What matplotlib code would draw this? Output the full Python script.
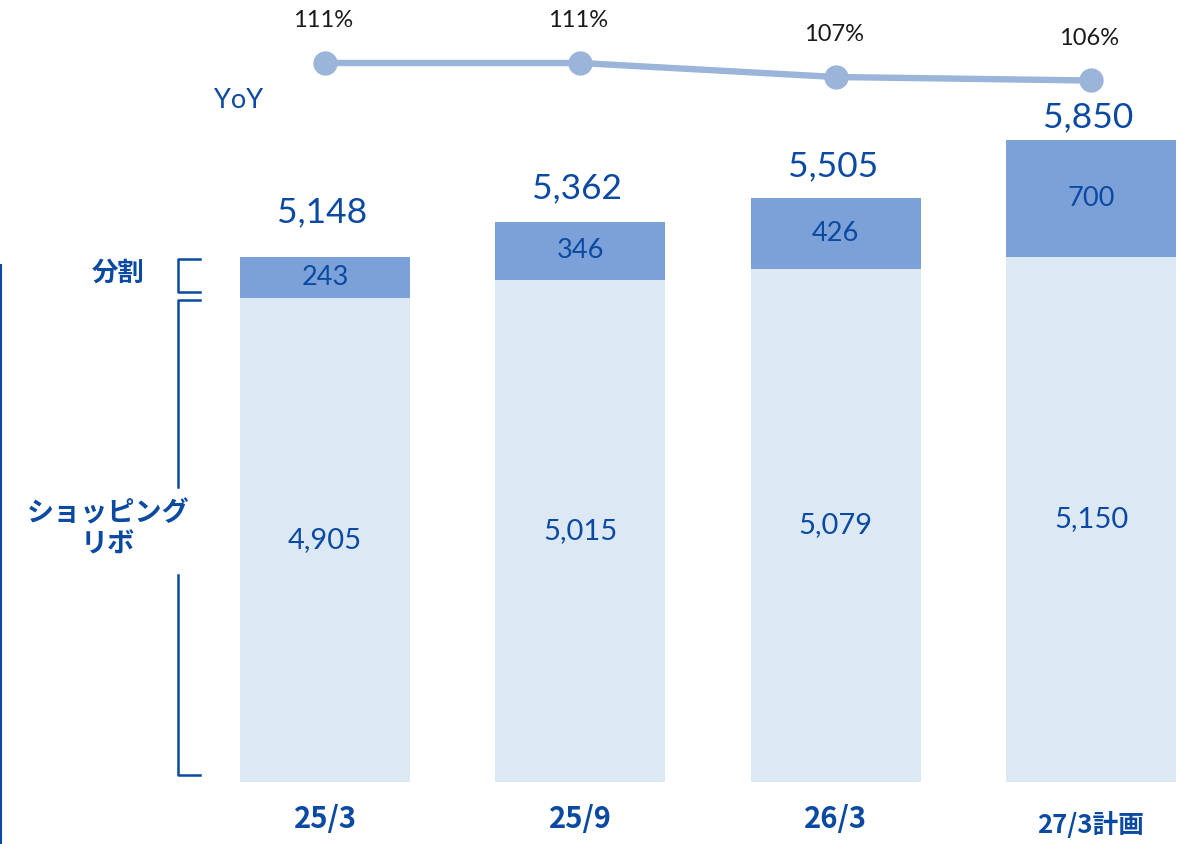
import matplotlib
matplotlib.use("Agg")
import matplotlib.pyplot as plt

categories = ["25/3", "25/9", "26/3", "27/3計画"]
shopping_revo = [4905, 5015, 5079, 5150]
installment = [243, 346, 426, 700]
totals = [5148, 5362, 5505, 5850]
yoy = [111, 111, 107, 106]
yoy_labels = ["111%", "111%", "107%", "106%"]

DARK = "#0B4AA2"
TOP_C = "#7BA1D8"
BOT_C = "#DDE8F5"
LINE_C = "#9BB4D9"

NUM_FONT = ["Lato", "DejaVu Sans"]
CJK_FONT = ["Noto Sans CJK JP", "DejaVu Sans"]

W, H = 1192, 844
fig = plt.figure(figsize=(W / 100, H / 100), dpi=100)
ax = fig.add_axes([0, 0, 1, 1])
ax.set_axis_off()

px_step = 255.33
x0_px = 325
ax.set_xlim(-x0_px / px_step, (W - x0_px) / px_step)
ax.set_ylim(2000 - (H - 782) * 6, 2000 + 782 * 6)

xs = list(range(len(categories)))
bw = 170 / px_step
ax.bar(xs, [s - 2000 for s in shopping_revo], bottom=2000, width=bw, color=BOT_C, zorder=2)
ax.bar(xs, installment, bottom=shopping_revo, width=bw, color=TOP_C, zorder=2)

for i in xs:
    ax.text(i, (2000 + shopping_revo[i]) / 2, f"{shopping_revo[i]:,}", ha="center", va="center",
            fontsize=21, color=DARK, family=NUM_FONT)
    ax.text(i, shopping_revo[i] + installment[i] / 2, f"{installment[i]:,}", ha="center", va="center",
            fontsize=19.5, color=DARK, family=NUM_FONT)

total_off = [45, 33, 32, 23]
for i in xs:
    ax.annotate(f"{totals[i]:,}", (i, totals[i]), xytext=(-3, total_off[i]), textcoords="offset pixels",
                ha="center", va="center", fontsize=25.5, color=DARK, family=NUM_FONT)

for i in xs:
    fs = 21 if i < 3 else 18.5
    ax.annotate(categories[i], (i, 2000), xytext=(0, -37 if i < 3 else -43), textcoords="offset pixels",
                ha="center", va="center", fontsize=fs, color=DARK, family=CJK_FONT, fontweight="bold")

ax2 = ax.twinx()
ax2.set_axis_off()
ax2.set_ylim(111 - (H - 63) / 3.5, 111 + 63 / 3.5)
ax2.plot(xs, yoy, color=LINE_C, lw=4.6, marker="o", markersize=16.5, zorder=3, solid_capstyle="round")
for i in xs:
    ax2.annotate(yoy_labels[i], (i, yoy[i]), xytext=(-2, 42), textcoords="offset pixels",
                 ha="center", va="center", fontsize=17, color="#1a1a1a", family=NUM_FONT)

ov = fig.add_axes([0, 0, 1, 1], facecolor="none")
ov.set_axis_off()
ov.set_xlim(0, W)
ov.set_ylim(H, 0)

ov.text(239, 101, "YoY", ha="center", va="center", fontsize=19.5, color=DARK, family=NUM_FONT)

ov.plot([200, 178, 178, 200], [259, 259, 292, 292], color=DARK, lw=1.8, solid_joinstyle="round")
ov.plot([200, 178, 178], [300, 300, 487], color=DARK, lw=1.8, solid_joinstyle="round")
ov.plot([178, 178, 200], [575, 775, 775], color=DARK, lw=1.8, solid_joinstyle="round")
ov.plot([1, 1], [265, 844], color=DARK, lw=1.5)

ov.text(118, 273, "分割", ha="center", va="center", fontsize=19, color=DARK, family=CJK_FONT, fontweight="bold")
ov.text(108, 529, "ショッピング\nリボ", ha="center", va="center", fontsize=19.5, color=DARK,
        family=CJK_FONT, fontweight="bold", linespacing=1.15)

fig.savefig("out.png", dpi=100)
